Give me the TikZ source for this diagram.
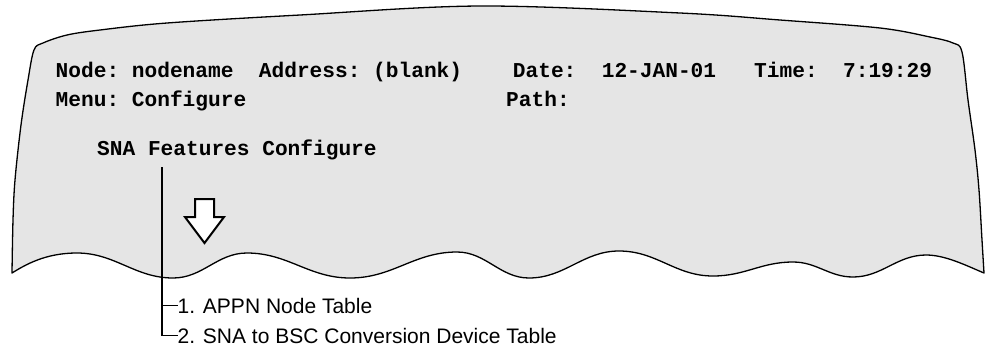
\documentclass[tikz,border=0pt]{standalone}
\usepackage{fontspec}
\setmainfont{Liberation Sans}
\setmonofont{Liberation Mono}
\definecolor{screen}{gray}{0.9}
\tikzset{
  scr/.style={fill=screen, draw=black, line width=1.3pt, line join=round},
  mono/.style={anchor=base west, inner sep=0pt, font=\fontsize{21.17}{25}\selectfont\ttfamily\bfseries},
  item/.style={anchor=base west, inner sep=0pt, font=\fontsize{21}{25}\selectfont},
  conn/.style={line width=1.8pt},
  hollow/.style={draw=black, fill=white, line width=2pt, line join=miter}
}
\begin{document}
\begin{tikzpicture}[x=1pt, y=-1pt]
\useasboundingbox (0,0) rectangle (986,349);
% screen outline
\draw[scr] plot[smooth, tension=0.55] coordinates {(12,273) (13,220) (15,180) (21,125) (28,80) (34,50) (43,43) (67,35) (100,30) (167,23) (300,15) (480,6) (680,13) (780,20) (880,28) (930,37) (953,43) (962,52) (968,100) (975,150) (979,190) (982,240) (984,273)}
  .. controls (965,265) and (945,255) .. (926,255)
  .. controls (897,255) and (882,277) .. (853,277)
  .. controls (829,277) and (817,262) .. (793,262)
  .. controls (761,262) and (745,276) .. (713,276)
  .. controls (675,276) and (657,251) .. (619,251)
  .. controls (583,251) and (565,278) .. (529,278)
  .. controls (500,278) and (486,252) .. (457,252)
  .. controls (414,252) and (393,278) .. (350,278)
  .. controls (309,278) and (288,253) .. (247,253)
  .. controls (217,253) and (203,278) .. (173,278)
  .. controls (135,278) and (115,253) .. (77,253)
  .. controls (45,253) and (25,265) .. (12,273) -- cycle;
% header text
\node[mono] (nd) at (55.5,77.5) {Node: nodename};
\node[mono] (addr) at (258.7,77.5) {Address: (blank)};
\node[mono] (date) at (512.7,77.5) {Date:};
\node[mono] (dval) at (601.6,77.5) {12-JAN-01};
\node[mono] (time) at (754,77.5) {Time:};
\node[mono] (tval) at (842.9,77.5) {7:19:29};
\node[mono] (menu) at (55.5,106) {Menu: Configure};
\node[mono] (path) at (506,106) {Path:};
\node[mono] (sna) at (97,155) {SNA Features Configure};
% hollow arrow
\draw[hollow] (195,199) -- (214,199) -- (214,217) -- (224,217) -- (204.5,243) -- (185,217) -- (195,217) -- cycle;
% items
\node[item] (it1) at (177.5,313) {1. APPN Node Table};
\node[item] (it2) at (177.5,343) {2. SNA to BSC Conversion Device Table};
\coordinate (stem) at (162,167);
\draw[conn] (stem) |- (it1.west);
\draw[conn] (stem) |- (it2.west);
\end{tikzpicture}
\end{document}
